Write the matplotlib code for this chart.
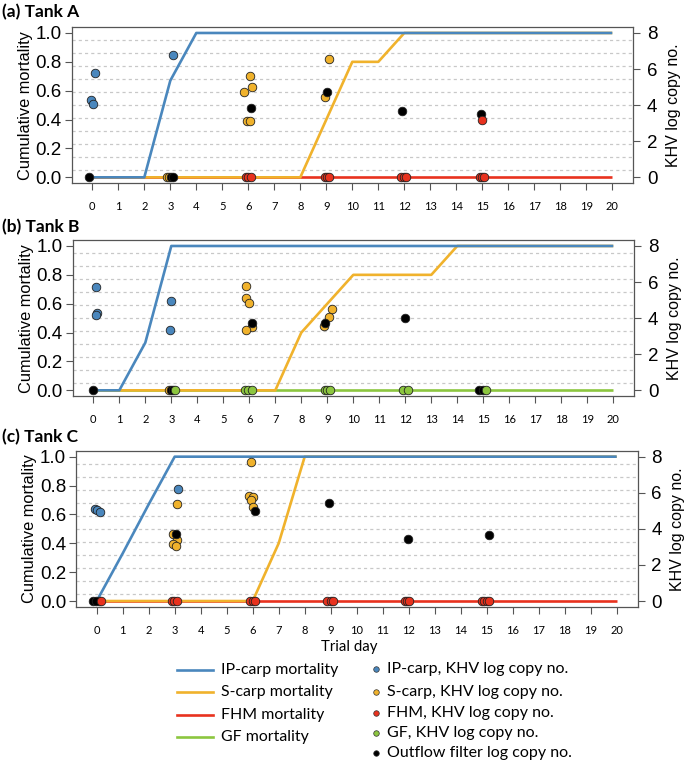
import numpy as np
import matplotlib
matplotlib.use("Agg")
import matplotlib.pyplot as plt
from matplotlib.lines import Line2D

# ---------------- data ----------------
days = list(range(0, 21))
xticks = list(range(0, 21))
left_ticks = [0.0, 0.2, 0.4, 0.6, 0.8, 1.0]
left_ticklabels = ["0.0", "0.2", "0.4", "0.6", "0.8", "1.0"]
right_ticks = [0, 2, 4, 6, 8]

# cumulative mortality per day
A_ip = [0, 0, 0, 0.67] + [1.0] * 17
A_s = [0] * 9 + [0.4, 0.8, 0.8] + [1.0] * 9
A_fhm = [0] * 21

B_ip = [0, 0, 0.33] + [1.0] * 18
B_s = [0] * 8 + [0.4, 0.6, 0.8, 0.8, 0.8, 0.8, 1.0] + [1.0] * 6
B_gf = [0] * 21

C_ip = [0, 0.33, 0.67] + [1.0] * 18
C_s = [0] * 7 + [0.4, 1.0] + [1.0] * 12
C_fhm = [0] * 21

# KHV log copy numbers (day with jitter, value)
A_ip_day = [0.10, -0.05, 0.02, 3.11]
A_ip_log = [5.76, 4.28, 4.06, 6.79]
A_s_day = [2.88, 2.95, 6.05, 6.13, 5.85, 5.96, 6.05, 9.12, 8.95]
A_s_log = [0, 0, 5.63, 5.02, 4.73, 3.14, 3.14, 6.57, 4.47]
A_filt_day = [-0.13, 3.02, 3.10, 6.10, 9.02, 11.93, 14.95]
A_filt_log = [0, 0, 0, 3.84, 4.74, 3.69, 3.49]
A_fhm_day = [5.90, 5.98, 6.10, 8.95, 9.02, 9.10, 11.88, 11.97, 12.08, 14.90, 15.00, 15.08, 14.98]
A_fhm_log = [0, 0, 0, 0, 0, 0, 0, 0, 0, 0, 0, 0, 3.17]

B_ip_day = [0.10, 0.15, 0.10, 3.00, 2.95]
B_ip_log = [5.73, 4.28, 4.20, 4.97, 3.34]
B_s_day = [2.90, 5.86, 5.87, 6.00, 6.10, 5.86, 9.18, 9.05, 8.88]
B_s_log = [0, 5.78, 5.10, 4.84, 3.51, 3.34, 4.49, 4.08, 3.58]
B_filt_day = [0.00, 3.00, 3.05, 6.10, 8.90, 11.97, 14.85, 14.98]
B_filt_log = [0, 0, 0, 3.73, 3.71, 3.99, 0, 0]
B_gf_day = [3.15, 5.82, 5.95, 6.10, 8.90, 9.00, 9.10, 11.93, 12.10, 15.10]
B_gf_log = [0] * 10

C_ip_day = [-0.07, 0.00, 0.13, 3.11]
C_ip_log = [5.08, 5.04, 4.95, 6.19]
C_s_day = [0.10, 3.10, 2.92, 3.10, 2.95, 3.05, 5.93, 5.86, 6.00, 5.92, 6.00]
C_s_log = [0, 5.38, 3.70, 3.38, 3.16, 3.07, 7.72, 5.84, 5.78, 5.60, 5.23]
C_filt_day = [-0.13, -0.03, 3.04, 6.09, 8.92, 11.98, 15.09]
C_filt_log = [0, 0, 3.71, 4.99, 5.41, 3.42, 3.66]
C_fhm_day = [0.15, 2.88, 2.97, 3.07, 5.90, 6.00, 6.10, 8.85, 9.00, 9.10, 11.85, 11.95, 12.02, 14.80, 14.90, 15.00, 15.10]
C_fhm_log = [0] * 17

titles = ["(a) Tank A", "(b) Tank B", "(c) Tank C"]
line_labels = ["IP-carp mortality", "S-carp mortality", "FHM mortality", "GF mortality"]
point_labels = ["IP-carp, KHV log copy no.", "S-carp, KHV log copy no.",
                "FHM, KHV log copy no.", "GF, KHV log copy no.",
                "Outflow filter log copy no."]

# ---------------- style ----------------
BLUE = "#4a87bd"
YEL = "#f0b22c"
RED = "#e8321e"
GRN = "#8cc63f"
BLK = "#000000"
FRAME = "#555555"
W, H = 685, 763
SANS = ["Liberation Sans", "DejaVu Sans"]
AV = ["Lato", "DejaVu Sans"]

fig = plt.figure(figsize=(W / 100, H / 100), dpi=100)


def rect(l, r, t, b):
    return [l / W, 1 - b / H, (r - l) / W, (b - t) / H]


panels = [
    dict(rect=rect(71.5, 633.1, 27.2, 183.1), title_y=12,
         lines=[(A_fhm, RED), (A_s, YEL), (A_ip, BLUE)],
         pts=[(A_ip_day, A_ip_log, BLUE), (A_s_day, A_s_log, YEL),
              (A_filt_day, A_filt_log, BLK), (A_fhm_day, A_fhm_log, RED)]),
    dict(rect=rect(72.5, 634.1, 240.2, 396.1), title_y=227,
         lines=[(B_gf, GRN), (B_s, YEL), (B_ip, BLUE)],
         pts=[(B_ip_day, B_ip_log, BLUE), (B_s_day, B_s_log, YEL),
              (B_filt_day, B_filt_log, BLK), (B_gf_day, B_gf_log, GRN)]),
    dict(rect=rect(75.9, 637.5, 450.9, 606.8), title_y=437,
         lines=[(C_fhm, RED), (C_s, YEL), (C_ip, BLUE)],
         pts=[(C_ip_day, C_ip_log, BLUE), (C_s_day, C_s_log, YEL),
              (C_filt_day, C_filt_log, BLK), (C_fhm_day, C_fhm_log, RED)]),
]

for i, p in enumerate(panels):
    ax = fig.add_axes(p["rect"])
    ax.set_xlim(-0.8, 20.8)
    ax.set_ylim(-0.04, 1.04)
    for gy in np.linspace(0.05, 0.95, 11):
        ax.axhline(gy, color="#c8c8c8", lw=0.9, ls=(0, (2.5, 2.5)), zorder=0)
    for vals, col in p["lines"]:
        ax.plot(days, vals, color=col, lw=1.9, solid_capstyle="butt", zorder=2)
    ax.set_xticks(xticks)
    ax.set_xticklabels([str(d) for d in xticks], fontfamily=AV, fontsize=8)
    ax.set_yticks(left_ticks)
    ax.set_yticklabels(left_ticklabels, fontfamily=SANS, fontsize=13.5)
    ax.tick_params(axis="x", length=5, width=0.8, color=FRAME, pad=8)
    ax.tick_params(axis="y", length=5, width=0.8, color=FRAME, pad=2)
    for s in ax.spines.values():
        s.set_color(FRAME)
        s.set_linewidth(0.9)
    ax.set_ylabel("Cumulative mortality", fontfamily=SANS, fontsize=11.8, labelpad=2)

    ax2 = ax.twinx()
    ax2.set_ylim(-0.32, 8.32)
    ax2.set_yticks(right_ticks)
    ax2.set_yticklabels([str(t) for t in right_ticks], fontfamily=SANS, fontsize=13.5)
    ax2.tick_params(axis="y", length=5, width=0.8, color=FRAME, pad=5)
    for s in ax2.spines.values():
        s.set_visible(False)
    ax2.set_ylabel("KHV log copy no.", fontfamily=SANS, fontsize=11.5, labelpad=6)
    for dd, vv, col in p["pts"]:
        ax2.scatter(dd, vv, s=38, c=col, edgecolors="#222222", linewidths=0.6, zorder=3)

    fig.text(2 / W, 1 - p["title_y"] / H, titles[i], fontfamily=AV, fontweight="bold",
             fontsize=12.5, va="center", ha="left")

fig.text(349 / W, 1 - 647 / H, "Trial day", fontfamily=AV, fontsize=10.8,
         ha="center", va="center")

# legend - lines
line_cols = [BLUE, YEL, RED, GRN]
ly = [670, 692.3, 715, 736.7]
for lab, col, y in zip(line_labels, line_cols, ly):
    fig.add_artist(Line2D([176.7 / W, 212.7 / W], [1 - y / H, 1 - y / H], color=col, lw=1.9,
                          transform=fig.transFigure))
    fig.text(221 / W, 1 - y / H, lab, fontfamily=AV, fontsize=11.4, va="center", ha="left")

pt_cols = [BLUE, YEL, RED, GRN, BLK]
py = [669.3, 691.7, 713.3, 733.3, 752.7]
for lab, col, y in zip(point_labels, pt_cols, py):
    fig.add_artist(Line2D([376 / W], [1 - y / H], marker="o", markersize=4.0, color=col,
                          markeredgecolor="#333333", markeredgewidth=0.5, ls="none",
                          transform=fig.transFigure))
    fig.text(386.7 / W, 1 - y / H, lab, fontfamily=AV, fontsize=11.5, va="center", ha="left")

fig.savefig("out.png", dpi=100)
